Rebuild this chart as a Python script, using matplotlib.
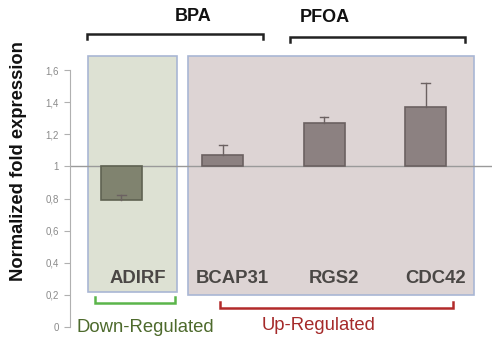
import matplotlib.pyplot as plt
import numpy as np

plt.rcParams['font.family'] = ['Liberation Sans', 'DejaVu Sans']

genes = ["ADIRF", "BCAP31", "RGS2", "CDC42"]
fold = [0.79, 1.07, 1.27, 1.37]
err = [0.03, 0.06, 0.04, 0.15]
yticks = [0, 0.2, 0.4, 0.6, 0.8, 1, 1.2, 1.4, 1.6]
yticklabels = ["0", "0,2", "0,4", "0,6", "0,8", "1", "1,2", "1,4", "1,6"]

W, H = 492, 340
fig = plt.figure(figsize=(W / 100, H / 100), dpi=100)
# axes placed in pixel units: spine at x=70, y=0 at 327px, y=1.6 at 70px
ax = fig.add_axes([70 / W, 1 - 327 / H, (W - 70) / W, (327 - 70) / H])
ax.set_xlim(-0.508, 3.656)
ax.set_ylim(0, 1.6)

x = np.arange(len(genes))

# shaded group boxes
ax.add_patch(plt.Rectangle((-0.33, 0.218), 0.88, 1.47, facecolor="#dde1d3",
                           edgecolor="#a9b6d4", lw=1.2, clip_on=False, zorder=0))
ax.add_patch(plt.Rectangle((0.655, 0.2), 2.825, 1.487, facecolor="#ddd4d4",
                           edgecolor="#a9b6d4", lw=1.2, clip_on=False, zorder=0))

# baseline at 1
ax.axhline(1, color="#9a9a9a", lw=1, zorder=1)

colors = ["#80836f", "#8c8181", "#8c8181", "#8c8181"]
edges = ["#5f6252", "#6b6161", "#6b6161", "#6b6161"]
heights = [f - 1 for f in fold]
ax.bar(x, heights, bottom=1, width=0.405, color=colors, edgecolor=edges,
       lw=1.2, zorder=2)
for xi, f, e in zip(x, fold, err):
    ax.plot([xi, xi], [f, f + e], color="#6b6161", lw=1, zorder=3)
    ax.plot([xi - 0.04, xi + 0.04], [f + e, f + e], color="#6b6161", lw=1, zorder=3)

# gene names sit a little right of their bars
label_shift = [0.16, 0.09, 0.1, 0.1]
for xi, g, dx in zip(x, genes, label_shift):
    ax.text(xi + dx, 0.305, g, ha="center", va="center",
            fontsize=13.3, fontweight="bold", color="#4a4745", zorder=4)

def bracket(x0, x1, y, h, color, lw=1.8):
    ax.plot([x0, x0, x1, x1], [y + h, y, y, y + h], color=color, lw=lw,
            clip_on=False, solid_joinstyle="miter")

# compound brackets above
bracket(-0.34, 1.397, 1.824, -0.03, "#222222")
bracket(1.663, 3.39, 1.806, -0.03, "#222222")
ax.text(0.706, 1.93, "BPA", ha="center", va="center", fontsize=13,
        fontweight="bold", color="#111111")
ax.text(2.01, 1.924, "PFOA", ha="center", va="center", fontsize=13,
        fontweight="bold", color="#111111")

# regulation brackets below
bracket(-0.26, 0.528, 0.149, 0.038, "#5bb54a")
bracket(0.97, 3.27, 0.118, 0.038, "#b22a2a")
ax.text(0.232, -0.004, "Down-Regulated", ha="center", va="center", fontsize=13.3,
        color="#4d6a2c")
ax.text(1.94, 0.012, "Up-Regulated", ha="center", va="center", fontsize=13.3,
        color="#a52a2a")

ax.set_yticks(yticks)
ax.set_yticklabels(yticklabels, fontsize=7, color="#8a8a8a")
ax.set_xticks([])
for s in ["top", "right", "bottom"]:
    ax.spines[s].set_visible(False)
ax.spines["left"].set_color("#b0b0b0")
ax.tick_params(axis="y", length=4, color="#b0b0b0", pad=4)
ax.patch.set_alpha(0)

fig.text(19 / W, 1 - 161 / H, "Normalized fold expression", rotation=90,
         ha="center", va="center", fontsize=13.2, fontweight="bold", color="#111111")

fig.savefig("out.png", dpi=100)
